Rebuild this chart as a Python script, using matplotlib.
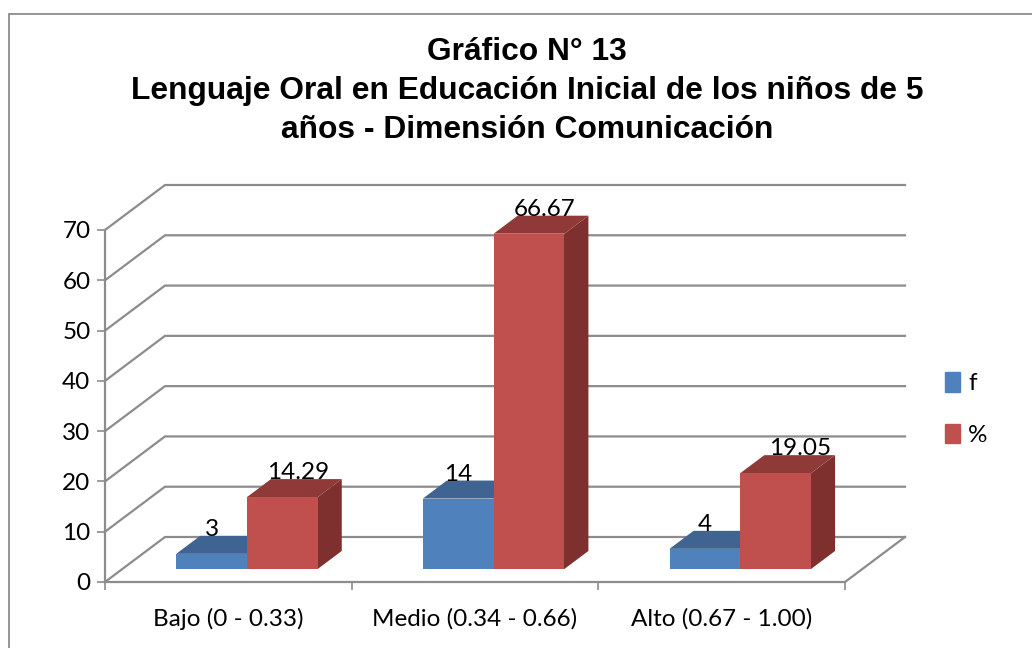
import numpy as np
import matplotlib
matplotlib.use("Agg")
import matplotlib.pyplot as plt
from matplotlib.lines import Line2D
from matplotlib.patches import Patch

categories = ["Bajo (0 - 0.33)", "Medio (0.34 - 0.66)", "Alto (0.67 - 1.00)"]
f_values = [3, 14, 4]
pct_values = [14.29, 66.67, 19.05]
f_labels = ["3", "14", "4"]
pct_labels = ["14.29", "66.67", "19.05"]
yticks = [0, 10, 20, 30, 40, 50, 60, 70]

title = "Gráfico N° 13\nLenguaje Oral en Educación Inicial de los niños de 5\naños - Dimensión Comunicación"

W, H = 1032, 648
GRID = "#8c8c8c"
BLUE, BLUE_TOP = "#4f81bd", "#3f6491"
RED, RED_TOP, RED_SIDE = "#c0504d", "#8f3a38", "#7d302e"

fig = plt.figure(figsize=(W / 100, H / 100), dpi=100)
fig.patch.set_facecolor("white")
# front plane of the 3d box, pixels from the picture
ax = fig.add_axes([105 / W, (H - 582) / H, 740 / W, 352 / H])
ax.set_xlim(0, 3)
ax.set_ylim(0, 70)
ax.patch.set_visible(False)

# depth of the box in data units
DX = 60 / (740 / 3)
DY = 45 / (352 / 70)


def proj(x, y, d):
    return x + d * DX, y + d * DY


def face(pts, color, z):
    xs, ys = zip(*[proj(*p) for p in pts])
    ax.fill(xs, ys, color=color, lw=0, zorder=z, clip_on=False)


# walls
for v in yticks:
    xa, ya = proj(0, v, 1)
    xb, yb = proj(3, v, 1)
    ax.plot([0, xa, xb], [v, ya, yb], color=GRID, lw=1.6, zorder=1, clip_on=False, solid_joinstyle="miter")
xa, ya = proj(3, 0, 1)
ax.plot([3, xa], [0, ya], color=GRID, lw=1.6, zorder=1, clip_on=False)

bw = 0.287
d0, d1 = 0.29, 0.69
shift = 0.005


def bar3d(x0, v, front, top, side, z):
    x1 = x0 + bw
    face([(x0, 0, d0), (x1, 0, d0), (x1, 0, d1), (x1, v, d1), (x1, v, d0)], side, z)
    face([(x0, v, d0), (x1, v, d0), (x1, v, d1), (x0, v, d1)], top, z)
    face([(x0, 0, d0), (x1, 0, d0), (x1, v, d0), (x0, v, d0)], front, z + 0.1)


for i in range(3):
    c = i + 0.5 + shift
    bar3d(c - bw, f_values[i], BLUE, BLUE_TOP, BLUE_TOP, 2)
    bar3d(c, pct_values[i], RED, RED_TOP, RED_SIDE, 3)

# data labels sit on the back edge of the top face
label_shift = [0.065, 0.065, 0.10]
for i in range(3):
    c = i + 0.5 + shift
    xt, yt = proj(c - bw / 2, f_values[i], d1)
    ax.text(xt - DX * (d1 - d0), yt, f_labels[i], ha="center", va="baseline", fontsize=17.5, family="Lato", zorder=5)
    xt, yt = proj(c + bw / 2, pct_values[i], d1)
    ax.text(xt - DX * (d1 - d0) + label_shift[i], yt, pct_labels[i], ha="center", va="baseline", fontsize=17.5, family="Lato", zorder=5)

for s in ["top", "right"]:
    ax.spines[s].set_visible(False)
for s in ["left", "bottom"]:
    ax.spines[s].set_color(GRID)
    ax.spines[s].set_linewidth(1.6)

ax.set_yticks(yticks)
ax.set_xticks([0, 1, 2, 3])
ax.set_xticklabels([])
ax.set_xticks([0.5, 1.5, 2.5], minor=True)
ax.set_xticklabels(categories, minor=True, fontsize=17.5, family="Lato")
ax.tick_params(axis="x", which="major", length=5.5, width=1.2, color=GRID)
ax.tick_params(axis="x", which="minor", length=0, pad=19)
ax.tick_params(axis="y", length=5.5, width=1.2, color=GRID, pad=5, labelsize=17.5)
for t in ax.get_yticklabels():
    t.set_family("Lato")
    t.set_verticalalignment("center_baseline")

handles = [Patch(color=BLUE, label="f"), Patch(color=RED, label="%")]
fig.legend(handles=handles, loc="center left", bbox_to_anchor=(945 / W, 1 - 409 / H), frameon=False,
           prop={"family": "Lato", "size": 17.5}, handlelength=0.62, handleheight=0.85, handletextpad=0.33,
           labelspacing=1.2, borderpad=0, borderaxespad=0)

fig.text(527 / W, 1 - 91 / H, title, ha="center", va="center", fontsize=22.9, fontweight="bold",
         family="Liberation Sans", linespacing=1.37)

# chart frame, only top and left are inside the picture
fig.add_artist(Line2D([8.5 / W, 8.5 / W, 1], [0, 1 - 13.5 / H, 1 - 13.5 / H], transform=fig.transFigure,
                      color=GRID, lw=1.3, solid_joinstyle="miter"))

fig.savefig("out.png", dpi=100)
